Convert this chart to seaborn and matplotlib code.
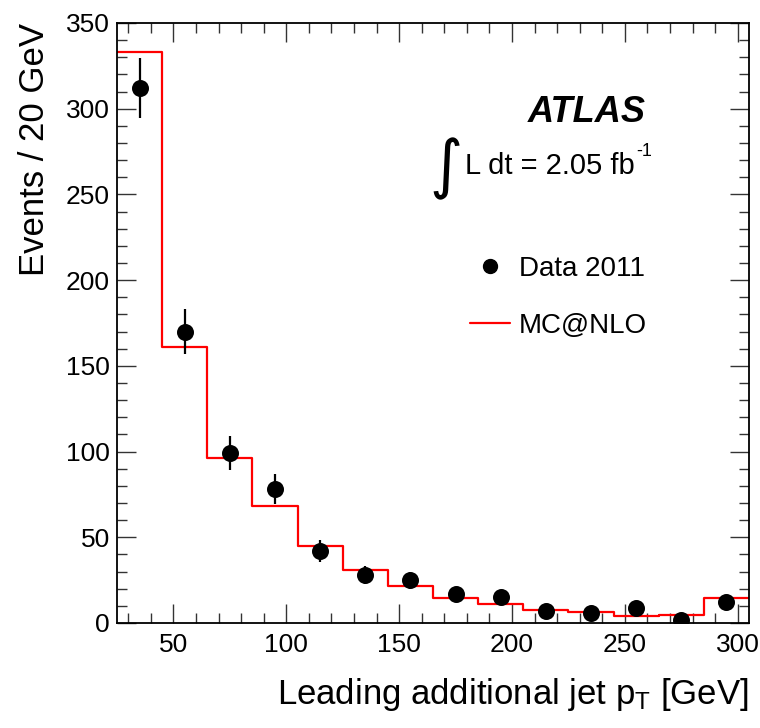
import numpy as np
import pandas as pd
import matplotlib
matplotlib.use("Agg")
import matplotlib.pyplot as plt
import seaborn as sns
from matplotlib.lines import Line2D
from matplotlib.ticker import MultipleLocator

# ---- data ----
bin_edges = [25, 45, 65, 85, 105, 125, 145, 165, 185, 205, 225, 245, 265, 285, 305]
bin_centers = [35, 55, 75, 95, 115, 135, 155, 175, 195, 215, 235, 255, 275, 295]
mc_values = [333, 161, 96, 68, 45, 31, 21.6, 14.4, 11.3, 7.8, 6.6, 4.3, 4.5, 14.4]
data_values = [312, 170, 99, 78, 42, 28, 25, 17, 15, 7, 6, 9, 2, 12]
data_errors = [17.7, 13.0, 9.9, 8.8, 6.5, 5.3, 5.0, 4.1, 3.8, 2.6, 2.4, 3.0, 1.4, 3.5]

sns.set_theme(style="ticks")
plt.rcParams["font.family"] = ["Liberation Sans", "DejaVu Sans"]
plt.rcParams["mathtext.fontset"] = "custom"
plt.rcParams["mathtext.rm"] = "Liberation Sans"
plt.rcParams["mathtext.it"] = "Liberation Sans:italic"
plt.rcParams["text.color"] = "black"
plt.rcParams["axes.labelcolor"] = "black"
plt.rcParams["xtick.labelcolor"] = "black"
plt.rcParams["ytick.labelcolor"] = "black"

fig = plt.figure(figsize=(7.6, 7.28), dpi=100)
ax = fig.add_axes([117/760, 1-623/728, (749-117)/760, 600/728])

mc_df = pd.DataFrame({"pt": bin_centers, "w": mc_values})
sns.histplot(data=mc_df, x="pt", weights="w", bins=bin_edges, element="step",
             fill=False, color="red", linewidth=1.6, ax=ax)

ax.errorbar(bin_centers, data_values, yerr=data_errors, fmt="none",
            ecolor="black", elinewidth=1.6, capsize=0, zorder=4)
sns.scatterplot(x=bin_centers, y=data_values, color="black", s=150,
                edgecolor="black", linewidth=0, zorder=5, ax=ax)

ax.set_xlim(25, 305)
ax.set_ylim(0, 350)
ax.xaxis.set_major_locator(MultipleLocator(50))
ax.xaxis.set_minor_locator(MultipleLocator(10))
ax.yaxis.set_major_locator(MultipleLocator(50))
ax.yaxis.set_minor_locator(MultipleLocator(10))
ax.tick_params(which="both", direction="in", top=True, right=True,
               color="#333333", width=1.0, labelsize=19, labelcolor="black")
ax.tick_params(which="major", length=13.5)
ax.tick_params(which="minor", length=7)
ax.tick_params(axis="x", pad=7)
ax.tick_params(axis="y", pad=5)
for s in ax.spines.values():
    s.set_linewidth(1.3)
    s.set_color("black")

ax.set_xlabel(r"Leading additional jet p$_{\mathrm{T}}$ [GeV]", fontsize=25,
              loc="right", color="black")
ax.xaxis.set_label_coords(1.0, -0.088)
ax.set_ylabel("Events / 20 GeV", fontsize=25, loc="top", color="black")
ax.yaxis.set_label_coords(-0.105, 1.0)

# annotations
fig.text(646/760, 1-122/728, "ATLAS", fontsize=26, fontweight="bold",
         fontstyle="italic", ha="right", va="baseline", color="black")
fig.text(446/760, 1-169/728, "\u222b", fontsize=46, family="DejaVu Sans",
         ha="center", va="center", color="black")
fig.text(465/760, 1-174/728, "L dt = 2.05 fb", fontsize=21, ha="left",
         va="baseline", color="black")
fig.text(636/760, 1-156/728, "-1", fontsize=13, ha="left", va="baseline",
         color="black")

handles = [
    Line2D([], [], linestyle="none", marker="o", color="black", markersize=10),
    Line2D([], [], color="red", linewidth=1.6),
]
leg = ax.legend(handles, ["Data 2011", "MC@NLO"], loc="upper left",
                bbox_to_anchor=(470/760, 1-256/728), bbox_transform=fig.transFigure,
                frameon=False, fontsize=20, borderpad=0, borderaxespad=0,
                handlelength=1.45, handletextpad=0.32, labelspacing=1.1)
for t in leg.get_texts():
    t.set_color("black")

fig.savefig("out.png", dpi=100)
